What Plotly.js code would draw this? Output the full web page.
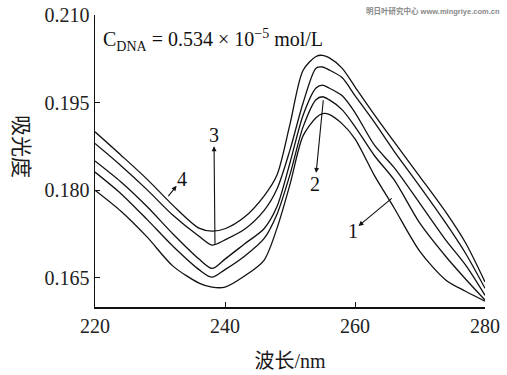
<!DOCTYPE html>
<html>
<head>
<meta charset="utf-8">
<script src="https://cdn.plot.ly/plotly-3.0.1.min.js"></script>
<style>html,body{margin:0;padding:0;background:#fff;}#chart{width:507px;height:375px;}</style>
</head>
<body>
<div id="chart"></div>
<script>
// wavelength (nm)
var wavelength = [220,224,228,232,236,238,240,243,246,248,250,252,254,255,256,258,260,263,266,270,274,277,280];
// absorbance curves 1..5 (bottom to top)
var curve1 = [0.1800,0.1764,0.1720,0.1670,0.1641,0.1634,0.1634,0.1653,0.1680,0.1735,0.1810,0.1893,0.1924,0.1931,0.1930,0.1914,0.1888,0.1825,0.1770,0.1695,0.1646,0.1627,0.1610];
var curve2 = [0.1831,0.1794,0.1750,0.1704,0.1664,0.1651,0.1664,0.1687,0.1717,0.1759,0.1827,0.1908,0.1955,0.1960,0.1955,0.1938,0.1909,0.1859,0.1818,0.1743,0.1686,0.1648,0.1612];
var curve3 = [0.1850,0.1814,0.1772,0.1725,0.1682,0.1666,0.1682,0.1708,0.1734,0.1772,0.1847,0.1928,0.1975,0.1980,0.1975,0.1962,0.1933,0.1877,0.1839,0.1777,0.1714,0.1672,0.1620];
var curve4 = [0.1880,0.1842,0.1801,0.1757,0.1721,0.1706,0.1715,0.1733,0.1765,0.1802,0.1869,0.1949,0.2009,0.2011,0.2006,0.1993,0.1962,0.1916,0.1867,0.1806,0.1743,0.1692,0.1632];
var curve5 = [0.1900,0.1860,0.1819,0.1774,0.1735,0.1730,0.1734,0.1754,0.1790,0.1826,0.1913,0.2005,0.2029,0.2031,0.2027,0.2009,0.1977,0.1929,0.1883,0.1823,0.1762,0.1710,0.1643];
var xTicks = [220,240,260,280];
var yTicks = [0.165,0.180,0.195,0.210];
var yTickText = ['0.165','0.180','0.195','0.210'];
// curve labels and their arrows (arrow runs from a point on the curve to the label)
var labelText = ['1','2','3','4'];
var labelX = [259.7,253.85,238.3,233.4];
var labelY = [0.1731,0.1810,0.1895,0.1819];
var curvePtX = [265.65,255.12,238.46,231.28];
var curvePtY = [0.1786,0.1954,0.1706,0.1790];

var serif = 'Liberation Serif';
var series = [curve1,curve2,curve3,curve4,curve5];
var traces = series.map(function(s){
  return {x: wavelength, y: s, type:'scatter', mode:'lines',
    line:{color:'#111', width:1.3, shape:'spline', smoothing:0.8},
    hoverinfo:'skip', showlegend:false};
});

var annotations = [];
for (var i=0;i<labelText.length;i++){
  annotations.push({x:curvePtX[i], y:curvePtY[i], ax:labelX[i], ay:labelY[i], xref:'x', yref:'y', axref:'x', ayref:'y',
    text:labelText[i], showarrow:true, arrowside:'start', startarrowhead:2, startarrowsize:0.9,
    arrowwidth:1.1, arrowcolor:'#111', borderpad:0,
    font:{family:serif, size:20, color:'#111'}});
}
annotations.push({xref:'paper', yref:'paper', x:0.015, y:0.914, xanchor:'left', yanchor:'middle',
  text:'C<sub>DNA</sub> = 0.534 × 10<sup>−5</sup> mol/L', showarrow:false,
  font:{family:serif, size:20, color:'#111'}});
annotations.push({xref:'paper', yref:'paper', x:-0.228, y:0.551, textangle:90,
  text:'吸光度', showarrow:false, font:{family:'Noto Sans CJK SC', size:21, color:'#1a1a1a'}});
annotations.push({xref:'paper', yref:'paper', x:1.0436, y:1.0137, xanchor:'right', yanchor:'middle',
  text:'明日叶研究中心 www.mingriye.com.cn', showarrow:false,
  font:{family:'Liberation Sans, Noto Sans CJK SC', size:7.5, color:'#888', weight:'bold'}});

var layout = {
  width:507, height:375,
  margin:{l:95, r:22, t:15, b:68},
  paper_bgcolor:'#fff', plot_bgcolor:'#fff',
  xaxis:{range:[220,280], tickvals:xTicks, ticks:'inside', ticklen:5, tickcolor:'#111', tickwidth:1,
    showline:true, linecolor:'#111', linewidth:1.5, showgrid:false, zeroline:false,
    tickfont:{family:serif, size:20, color:'#222'},
    title:{text:'波长/nm', standoff:18, font:{family:'Liberation Serif, Noto Sans CJK SC', size:20, color:'#1a1a1a'}}},
  yaxis:{range:[0.160,0.210], tickvals:yTicks, ticktext:yTickText, ticks:'inside', ticklen:5, tickcolor:'#111', tickwidth:1,
    showline:true, linecolor:'#111', linewidth:1.5, showgrid:false, zeroline:false,
    tickfont:{family:serif, size:20, color:'#222'}},
  annotations: annotations
};
Plotly.newPlot('chart', traces, layout, {staticPlot:true, displayModeBar:false});
</script>
</body>
</html>
